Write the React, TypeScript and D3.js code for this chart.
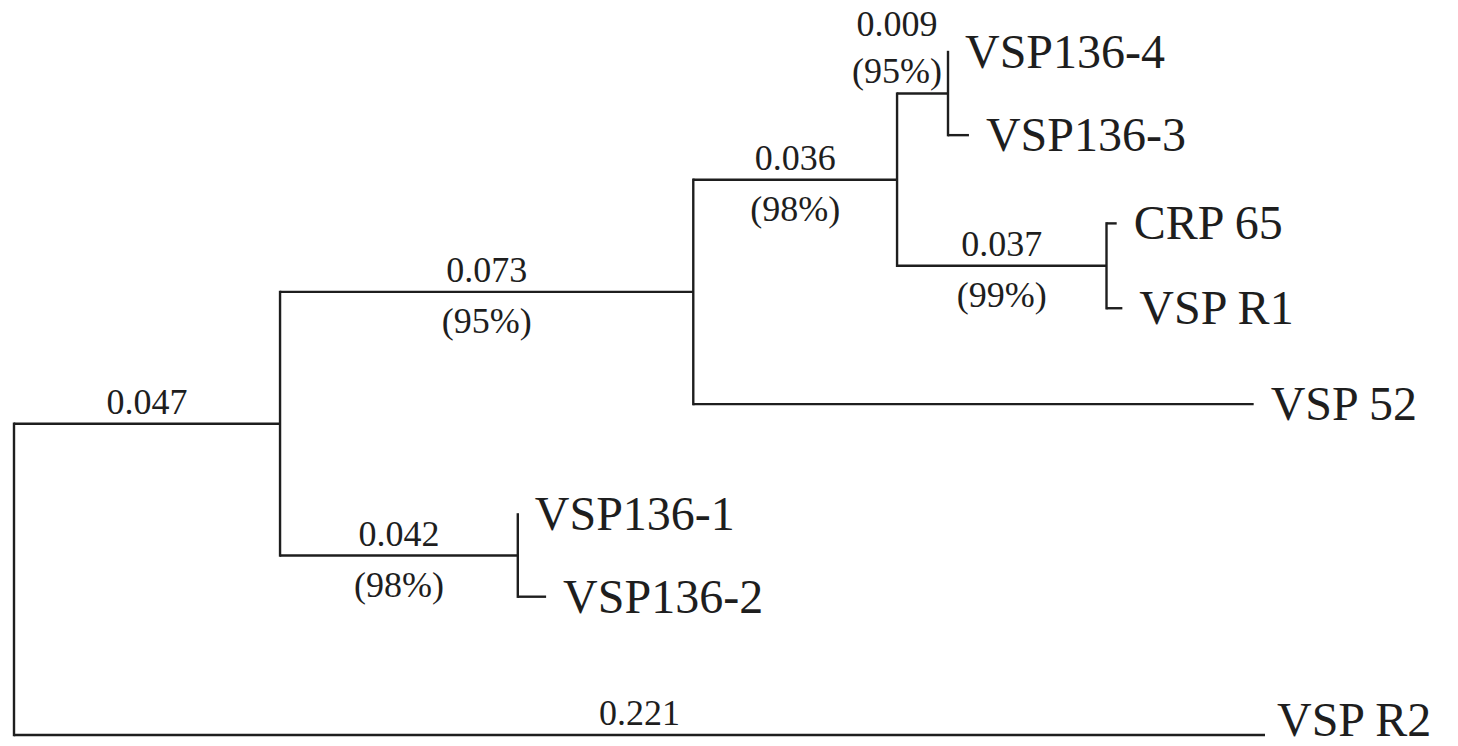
import React, { useEffect, useRef } from "react";
import * as d3 from "d3";

// tree table: id, parent, branch length, bootstrap support
const nodeIds = ["root", "n1", "n2", "n4", "n5", "VSP136-4", "VSP136-3", "n6", "CRP 65", "VSP R1", "VSP 52", "n3", "VSP136-1", "VSP136-2", "VSP R2"];
const parentIds = ["", "root", "n1", "n2", "n4", "n5", "n5", "n4", "n6", "n6", "n2", "n1", "n3", "n3", "root"];
const branchLengths = [0, 0.047, 0.073, 0.036, 0.009, 0, 0.0037, 0.037, 0.0018, 0.0028, 0.099, 0.042, 0, 0.005, 0.221];
const branchLabels = ["", "0.047", "0.073", "0.036", "0.009", "", "", "0.037", "", "", "", "0.042", "", "", "0.221"];
const supports = ["", "", "(95%)", "(98%)", "(95%)", "", "", "(99%)", "", "", "", "(98%)", "", "", ""];

// leaf order top to bottom, with their row in the drawing
const leafNames = ["VSP136-4", "VSP136-3", "CRP 65", "VSP R1", "VSP 52", "VSP136-1", "VSP136-2", "VSP R2"];
const leafRows = [0, 0.98, 2.02, 3.02, 4.15, 5.45, 6.42, 8.05];

const sideLabelNodes = ["n5"];

const App = () => {
    const svgRef = useRef(null);

    useEffect(() => {
        const width = 1458;
        const height = 746;
        const ink = "#1e1e1e";

        const svg = d3.select(svgRef.current)
            .attr("width", width)
            .attr("height", height);
        svg.selectAll("*").remove();

        const table = nodeIds.map((id, i) => ({
            id,
            parent: parentIds[i],
            length: branchLengths[i],
            label: branchLabels[i],
            support: supports[i],
        }));

        const root = d3.stratify()
            .id((d) => d.id)
            .parentId((d) => d.parent || null)(table);

        // cumulative distance from root
        root.each((n) => {
            n.dist = n.parent ? n.parent.dist + n.data.length : 0;
        });

        const x = d3.scaleLinear().domain([0, 0.221]).range([14, 1265]);
        const y = d3.scaleLinear().domain([0, 8.05]).range([52, 735]);

        // y of leaves from rows, internal nodes at mid of first/last child
        root.eachAfter((n) => {
            if (!n.children) {
                n.py = y(leafRows[leafNames.indexOf(n.id)]);
            } else {
                const ys = n.children.map((c) => c.py);
                n.py = (d3.min(ys) + d3.max(ys)) / 2;
            }
            n.px = x(n.dist);
        });

        const g = svg.append("g");

        // horizontal branches
        g.selectAll("line.h")
            .data(root.descendants().filter((n) => n.parent))
            .enter()
            .append("line")
            .attr("x1", (n) => n.parent.px)
            .attr("x2", (n) => n.px)
            .attr("y1", (n) => n.py)
            .attr("y2", (n) => n.py)
            .attr("stroke", ink)
            .attr("stroke-width", 2.4);

        // vertical connectors
        g.selectAll("line.v")
            .data(root.descendants().filter((n) => n.children))
            .enter()
            .append("line")
            .attr("x1", (n) => n.px)
            .attr("x2", (n) => n.px)
            .attr("y1", (n) => d3.min(n.children, (c) => c.py) - 1.2)
            .attr("y2", (n) => d3.max(n.children, (c) => c.py) + 1.2)
            .attr("stroke", ink)
            .attr("stroke-width", 2.4);

        const font = "Liberation Serif, Times New Roman, Times, Tinos, DejaVu Serif, serif";

        // branch length labels and supports
        const labelled = root.descendants().filter((n) => n.parent && n.data.label);
        labelled.forEach((n) => {
            const side = sideLabelNodes.includes(n.id);
            const cx = side ? n.parent.px : (n.parent.px + n.px) / 2;
            g.append("text")
                .attr("x", cx)
                .attr("y", side ? n.py - 58 : n.py - 10)
                .attr("text-anchor", "middle")
                .style("font-family", font)
                .attr("font-size", 36)
                .attr("fill", ink)
                .text(n.data.label);
            if (n.data.support) {
                g.append("text")
                    .attr("x", cx)
                    .attr("y", side ? n.py - 11 : n.py + 41)
                    .attr("text-anchor", "middle")
                    .style("font-family", font)
                    .attr("font-size", 36)
                    .attr("fill", ink)
                    .text(n.data.support);
            }
        });

        // leaf names
        g.selectAll("text.leaf")
            .data(root.leaves())
            .enter()
            .append("text")
            .attr("x", (n) => n.px + (n.py > height - 40 ? 12 : 17))
            .attr("y", (n) => Math.min(n.py + 16, height - 10))
            .style("font-family", font)
            .attr("font-size", 48)
            .attr("fill", ink)
            .text((n) => n.id);
    }, []);

    return (
        <div style={{ position: "absolute", left: 0, top: 0, background: "#fff" }}>
            <svg ref={svgRef} style={{ display: "block" }}></svg>
        </div>
    );
};

export default App;
